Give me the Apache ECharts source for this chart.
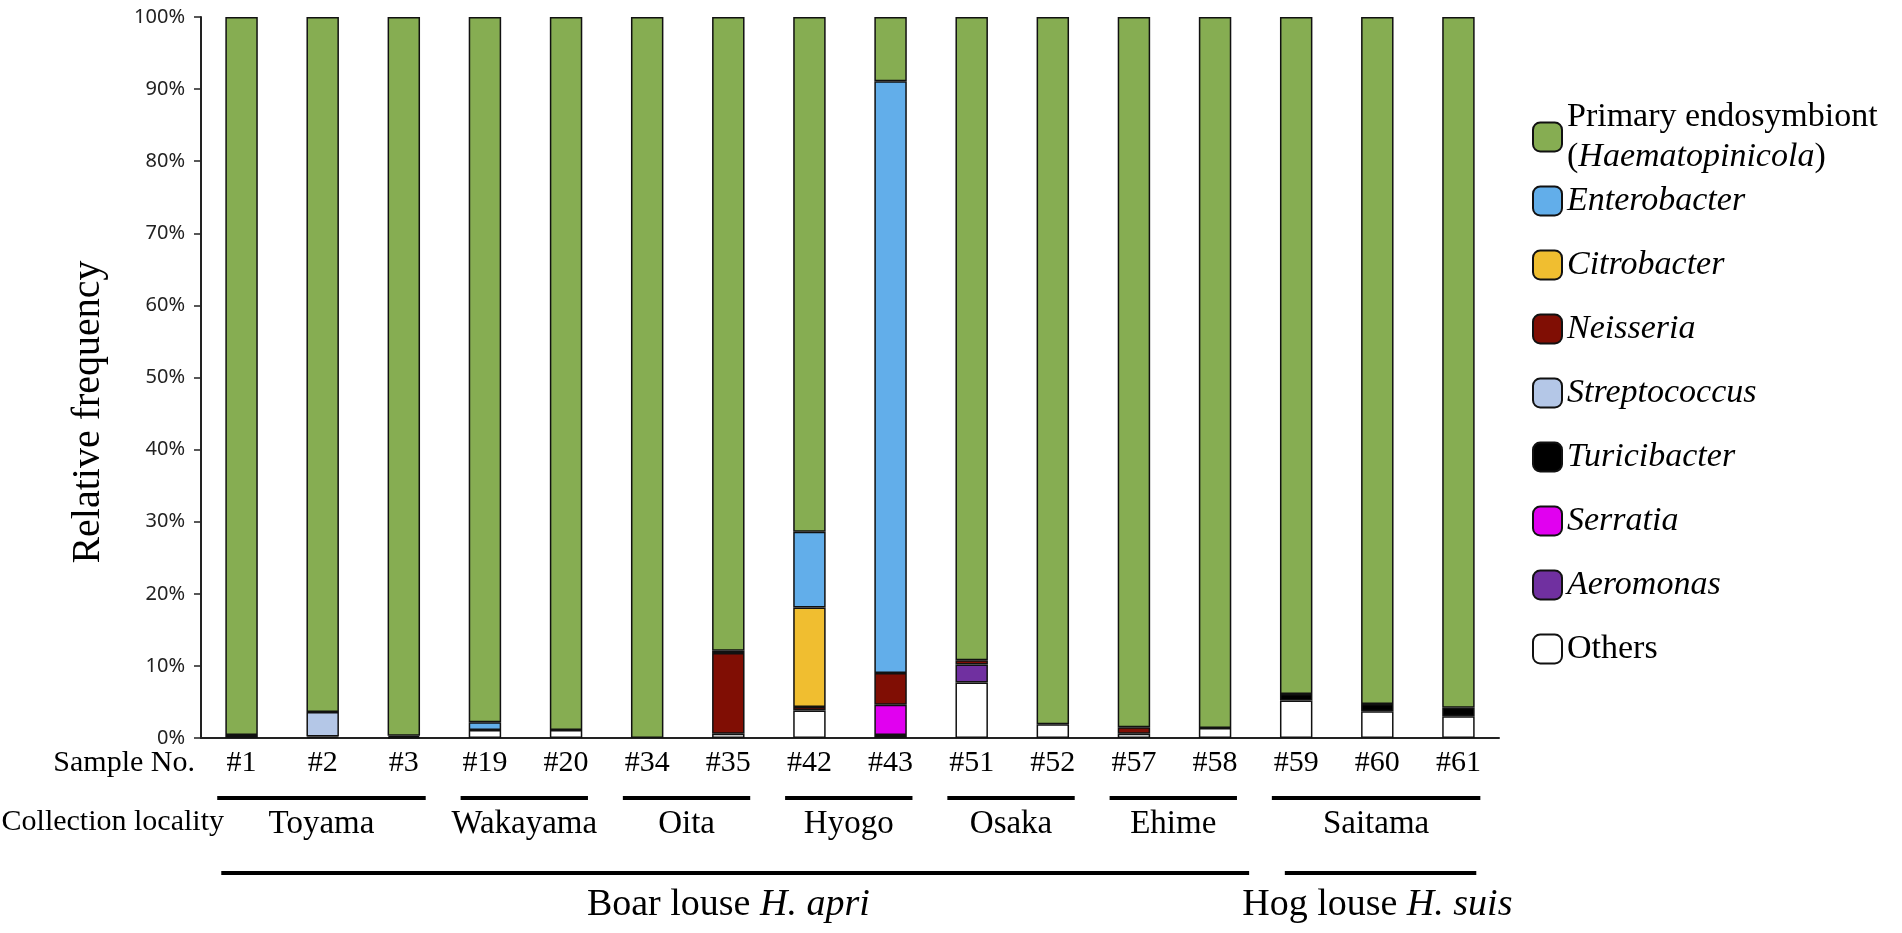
<!DOCTYPE html>
<html>
<head>
<meta charset="utf-8">
<script src="https://cdn.jsdelivr.net/npm/echarts@6/dist/echarts.min.js"></script>
<style>
html, body { margin: 0; background: #fff; }
#chart { width: 1902px; height: 933px; }
</style>
</head>
<body>
<div id="chart"></div>
<script>
// sample numbers on the x axis
var samples = ['#1', '#2', '#3', '#19', '#20', '#34', '#35', '#42', '#43', '#51', '#52', '#57', '#58', '#59', '#60', '#61'];

// relative frequency (%) per taxon
var primary       = [99.6, 96.4, 99.7, 97.8, 98.9, 100, 87.9, 71.4, 8.9, 89.2, 98.1, 98.5, 98.6, 93.9, 95.3, 95.8];
var enterobacter  = [0, 0, 0, 1.1, 0, 0, 0.3, 10.5, 82.1, 0, 0, 0, 0, 0, 0, 0];
var citrobacter   = [0, 0, 0, 0, 0, 0, 0, 13.8, 0, 0, 0, 0, 0, 0, 0, 0];
var neisseria     = [0, 0, 0, 0, 0, 0, 11.2, 0.5, 4.4, 0.6, 0, 0.9, 0, 0, 0, 0];
var streptococcus = [0, 3.4, 0, 0, 0, 0, 0, 0, 0, 0, 0, 0, 0, 0, 0, 0];
var turicibacter  = [0, 0, 0.2, 0, 0, 0, 0, 0, 0, 0, 0, 0, 0, 0.9, 1.0, 1.2];
var serratia      = [0, 0, 0, 0, 0, 0, 0, 0, 4.2, 0, 0, 0, 0, 0, 0, 0];
var aeromonas     = [0, 0, 0, 0, 0, 0, 0, 0, 0, 2.5, 0, 0, 0, 0, 0, 0];
var others        = [0.4, 0.2, 0.1, 1.1, 1.1, 0, 0.6, 3.8, 0.4, 7.7, 1.9, 0.6, 1.4, 5.2, 3.7, 3.0];

// grouping rows under the axis
var localities = ['Toyama', 'Wakayama', 'Oita', 'Hyogo', 'Osaka', 'Ehime', 'Saitama'];
var localityFirst = [0, 3, 5, 7, 9, 11, 13];
var localityLast  = [2, 4, 6, 8, 10, 12, 15];
var hosts = [['Boar louse ', 'H. apri'], ['Hog louse ', 'H. suis']];
var hostFirst = [0, 13];
var hostLast  = [12, 15];

var serif = 'Liberation Serif, Times New Roman, serif';

function bar(name, data, color) {
    return {
        name: name,
        type: 'bar',
        stack: 'all',
        barWidth: '40%',
        data: data.map(function (v) { return v === 0 ? '-' : v; }),
        itemStyle: { color: color, borderColor: '#111', borderWidth: 1.5 }
    };
}

var myChart = echarts.init(document.getElementById('chart'));

var legendRich = {
    n: { fontFamily: serif, fontSize: 34, color: '#000', lineHeight: 29 },
    i: { fontFamily: serif, fontSize: 34, color: '#000', fontStyle: 'italic', lineHeight: 29 }
};

var option = {
    animation: false,
    grid: { left: 201, right: 403, top: 17, bottom: 195 },
    legend: [
        {
            orient: 'vertical',
            left: 1532,
            top: 100,
            padding: 0,
            itemWidth: 29,
            itemHeight: 29,
            selectedMode: false,
            itemStyle: { borderColor: '#111', borderWidth: 2 },
            data: ['Primary endosymbiont'],
            formatter: function () {
                return '{n|Primary endosymbiont}\n{n|(}{i|Haematopinicola}{n|)}';
            },
            textStyle: {
                rich: {
                    n: { fontFamily: serif, fontSize: 34, color: '#000', lineHeight: 40 },
                    i: { fontFamily: serif, fontSize: 34, color: '#000', fontStyle: 'italic', lineHeight: 40 }
                }
            }
        },
        {
            orient: 'vertical',
            left: 1532,
            top: 184,
            padding: 0,
            itemWidth: 29,
            itemHeight: 29,
            itemGap: 30,
            selectedMode: false,
            itemStyle: { borderColor: '#111', borderWidth: 2 },
            data: ['Enterobacter', 'Citrobacter', 'Neisseria', 'Streptococcus', 'Turicibacter', 'Serratia', 'Aeromonas', 'Others'],
            formatter: function (name) {
                return name === 'Others' ? '{n|' + name + '}' : '{i|' + name + '}';
            },
            textStyle: { lineHeight: 29, rich: legendRich }
        }
    ],
    xAxis: {
        type: 'category',
        data: samples,
        axisTick: { show: false },
        axisLine: { lineStyle: { color: '#222', width: 2 } },
        axisLabel: { fontFamily: serif, fontSize: 30, color: '#000', margin: 10 }
    },
    yAxis: {
        type: 'value',
        min: 0,
        max: 100,
        interval: 10,
        splitLine: { show: false },
        axisLine: { show: true, lineStyle: { color: '#222', width: 2 } },
        axisTick: { show: true, length: 7, lineStyle: { color: '#222', width: 1.5 } },
        axisLabel: { formatter: '{value}%', fontFamily: 'Noto Sans', fontSize: 20, color: '#222', margin: 16 }
    },
    // stacked bottom to top, as in the figure
    series: [
        bar('Others', others, '#ffffff'),
        bar('Aeromonas', aeromonas, '#7030a0'),
        bar('Serratia', serratia, '#e100f0'),
        bar('Turicibacter', turicibacter, '#000000'),
        bar('Streptococcus', streptococcus, '#b4c7e7'),
        bar('Neisseria', neisseria, '#800e04'),
        bar('Citrobacter', citrobacter, '#f0be30'),
        bar('Enterobacter', enterobacter, '#62aeea'),
        bar('Primary endosymbiont', primary, '#86ad52')
    ]
};

myChart.setOption(option);

// labels and brackets under the axis, placed from the category positions
var xs = samples.map(function (s, i) { return myChart.convertToPixel({ xAxisIndex: 0 }, i); });
var band = xs[1] - xs[0];
var g = [];

g.push({
    type: 'text', x: 88, y: 412, rotation: Math.PI / 2,
    style: { text: 'Relative frequency', x: 0, y: 0, align: 'center', verticalAlign: 'middle', fontFamily: serif, fontSize: 40, fill: '#000' }
});
g.push({ type: 'text', style: { text: 'Sample No.', x: 195, y: 763, align: 'right', verticalAlign: 'middle', fontFamily: serif, fontSize: 30, fill: '#000' } });
g.push({ type: 'text', style: { text: 'Collection locality', x: 224, y: 822, align: 'right', verticalAlign: 'middle', fontFamily: serif, fontSize: 30, fill: '#000' } });

localities.forEach(function (name, k) {
    var x0 = xs[localityFirst[k]] - band * 0.3;
    var x1 = xs[localityLast[k]] + band * 0.27;
    g.push({ type: 'line', shape: { x1: x0, y1: 798, x2: x1, y2: 798 }, style: { stroke: '#000', lineWidth: 4 } });
    g.push({ type: 'text', style: { text: name, x: (x0 + x1) / 2, y: 824, align: 'center', verticalAlign: 'middle', fontFamily: serif, fontSize: 33, fill: '#000' } });
});

var hostPad = [[0.25, 0.42], [0.14, 0.22]];
hosts.forEach(function (h, k) {
    var x0 = xs[hostFirst[k]] - band * hostPad[k][0];
    var x1 = xs[hostLast[k]] + band * hostPad[k][1];
    var cx = (xs[hostFirst[k]] + xs[hostLast[k]]) / 2;
    g.push({ type: 'line', shape: { x1: x0, y1: 873, x2: x1, y2: 873 }, style: { stroke: '#000', lineWidth: 4 } });
    g.push({
        type: 'text',
        style: {
            text: '{n|' + h[0] + '}{i|' + h[1] + '}',
            x: cx, y: 905, align: 'center', verticalAlign: 'middle',
            rich: {
                n: { fontFamily: serif, fontSize: 38, fill: '#000' },
                i: { fontFamily: serif, fontSize: 38, fontStyle: 'italic', fill: '#000' }
            }
        }
    });
});

myChart.setOption({ graphic: g });
</script>
</body>
</html>
